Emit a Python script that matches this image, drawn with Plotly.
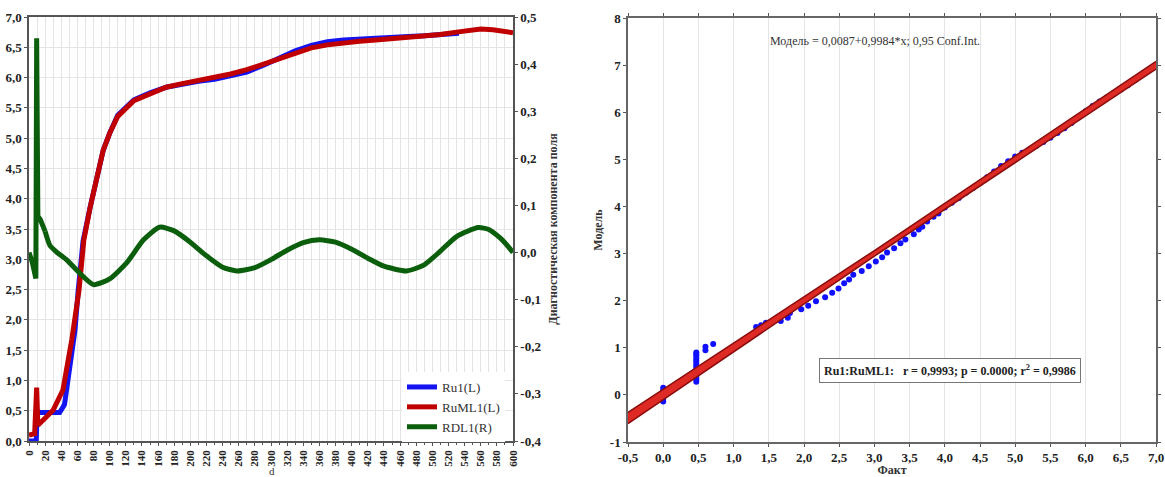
import plotly.graph_objects as go

# ---------------- left panel: field components along the profile ----------------
dist_ru1 = [0, 9, 10, 38, 44, 51, 57, 61, 67, 76, 84, 92, 100, 110, 130, 150, 170, 190,
            210, 230, 250, 270, 290, 310, 330, 350, 370, 390, 410, 430, 450, 470, 490,
            510, 533]
ru1 = [0.0, 0.0, 0.47, 0.47, 0.6, 1.23, 1.83, 2.49, 3.3, 3.87, 4.36, 4.8, 5.08, 5.38,
       5.63, 5.75, 5.84, 5.9, 5.94, 5.97, 6.02, 6.09, 6.2, 6.33, 6.44, 6.53, 6.59, 6.62,
       6.64, 6.66, 6.67, 6.68, 6.69, 6.7, 6.73]

dist_ruml1 = [0, 7, 9.5, 11, 18, 30, 42, 53, 62, 68, 76, 84, 92, 100, 110, 130, 150, 170,
              190, 210, 230, 250, 270, 290, 310, 330, 350, 370, 390, 410, 430, 450, 470,
              490, 510, 530, 545, 560, 575, 590, 600]
ruml1 = [0.1, 0.12, 0.88, 0.26, 0.35, 0.51, 0.84, 1.67, 2.49, 3.32, 3.87, 4.36, 4.8,
         5.08, 5.36, 5.62, 5.74, 5.84, 5.9, 5.95, 6.0, 6.06, 6.13, 6.22, 6.32, 6.42, 6.49,
         6.54, 6.58, 6.6, 6.62, 6.64, 6.66, 6.68, 6.71, 6.75, 6.78, 6.8, 6.79, 6.77, 6.74]

# early part (sharp spike) and the smooth oscillating remainder share one legend entry
dist_rdl1 = [0, 4, 8.5, 9.5, 11, 14, 20, 26, 35, 47, 63, 80, 100, 121, 142, 162, 180, 200,
             220, 240, 258, 280, 300, 320, 340, 360, 380, 400, 420, 440, 468, 490, 510,
             530, 557, 570, 584, 592, 600]
rdl1 = [0.0, -0.02, -0.055, 0.455, 0.077, 0.07, 0.045, 0.015, 0.0, -0.016, -0.044,
        -0.068, -0.056, -0.022, 0.027, 0.054, 0.046, 0.022, -0.007, -0.031, -0.039,
        -0.032, -0.015, 0.005, 0.021, 0.027, 0.022, 0.007, -0.012, -0.029, -0.039,
        -0.026, 0.003, 0.034, 0.053, 0.049, 0.031, 0.017, 0.0]
RDL1_SPLIT = 6  # index where the smooth part begins

dist_ticks = list(range(0, 601, 20))
dist_labels = [str(v) for v in dist_ticks]
left_ticks = [i * 0.5 for i in range(15)]
left_labels = [f"{v:.1f}".replace(".", ",") for v in left_ticks]
right_ticks = [-0.4, -0.3, -0.2, -0.1, 0.0, 0.1, 0.2, 0.3, 0.4, 0.5]
right_labels = ["-0,4", "-0,3", "-0,2", "-0,1", "0,0", "0,1", "0,2", "0,3", "0,4", "0,5"]

# ---------------- right panel: model vs. measured ----------------
fact = ([0.0] * 6 + [0.47] * 14 +
        [0.6, 0.6, 0.71, 1.13, 1.2, 1.27, 1.32, 1.39, 1.46, 1.67, 1.77, 1.8,
         1.96, 2.06, 2.17, 2.3, 2.4, 2.49, 2.57, 2.64, 2.7, 2.82, 2.92, 3.02,
         3.11, 3.18, 3.28, 3.37, 3.44, 3.56, 3.63, 3.68, 3.75, 3.84, 3.91,
         4.0, 4.1, 4.2, 4.3, 4.4, 4.5, 4.6, 4.7, 4.8, 4.9, 5.0, 5.1, 5.2, 5.3,
         5.4, 5.5, 5.6, 5.7, 5.8, 5.9, 6.0, 6.1, 6.2, 6.3, 6.4, 6.5, 6.6, 6.7])
model = ([-0.14, -0.08, -0.02, 0.04, 0.1, 0.15] +
         [0.28, 0.33, 0.38, 0.43, 0.48, 0.53, 0.58, 0.63, 0.68, 0.73, 0.78, 0.83, 0.87, 0.9] +
         [0.95, 1.02, 1.08, 1.13, 1.18, 1.27, 1.44, 1.48, 1.53, 1.57, 1.64, 1.74,
          1.82, 1.89, 1.99, 2.07, 2.17, 2.26, 2.37, 2.45, 2.55, 2.63, 2.73, 2.83,
          2.92, 3.02, 3.11, 3.22, 3.3, 3.41, 3.51, 3.57, 3.68, 3.78, 3.85,
          3.98, 4.08, 4.18, 4.29, 4.39, 4.5, 4.62, 4.74, 4.86, 4.96, 5.06, 5.14, 5.21,
          5.29, 5.37, 5.46, 5.56, 5.66, 5.77, 5.89, 6.02, 6.13, 6.23, 6.31, 6.39, 6.48,
          6.57, 6.68])

fit_intercept = 0.0087
fit_slope = 0.9984
fit_x = [-0.5, 3.0, 7.0]
conf_half = [0.12, 0.06, 0.08]  # half-width of the 0.95 confidence band

fact_ticks = [-0.5 + 0.5 * i for i in range(16)]
fact_labels = [f"{v:.1f}".replace(".", ",") for v in fact_ticks]
model_ticks = list(range(-1, 9))
model_labels = [str(v) for v in model_ticks]

fit_y = [fit_intercept + fit_slope * x for x in fit_x]
conf_lo = [y - h for y, h in zip(fit_y, conf_half)]
conf_hi = [y + h for y, h in zip(fit_y, conf_half)]

SERIF = "Liberation Serif"
W, H = 1165, 477
GREEN = "#0b5e0b"

fig = go.Figure()

fig.add_trace(go.Scatter(x=dist_ru1, y=ru1, name="Ru1(L)", mode="lines",
                         line=dict(color="#1414f0", width=5), xaxis="x", yaxis="y"))
fig.add_trace(go.Scatter(x=dist_ruml1, y=ruml1, name="RuML1(L)", mode="lines",
                         line=dict(color="#c00000", width=5), xaxis="x", yaxis="y"))
fig.add_trace(go.Scatter(x=dist_rdl1[:RDL1_SPLIT + 1], y=rdl1[:RDL1_SPLIT + 1],
                         name="RDL1(R)", mode="lines", legendgroup="rdl1", showlegend=False,
                         line=dict(color=GREEN, width=5), xaxis="x", yaxis="y2"))
fig.add_trace(go.Scatter(x=dist_rdl1[RDL1_SPLIT:], y=rdl1[RDL1_SPLIT:],
                         name="RDL1(R)", mode="lines", legendgroup="rdl1",
                         line=dict(color=GREEN, width=5, shape="spline", smoothing=0.6),
                         xaxis="x", yaxis="y2"))

fig.add_trace(go.Scatter(x=fact, y=model, mode="markers", showlegend=False,
                         marker=dict(color="#1010ff", size=6),
                         xaxis="x2", yaxis="y3"))
fig.add_trace(go.Scatter(x=fit_x, y=conf_lo, mode="lines", showlegend=False,
                         line=dict(color="#8a0c0c", width=1.5),
                         xaxis="x2", yaxis="y3"))
fig.add_trace(go.Scatter(x=fit_x, y=conf_hi, mode="lines", showlegend=False,
                         line=dict(color="#8a0c0c", width=1.5), fill="tonexty",
                         fillcolor="#dd2a24", xaxis="x2", yaxis="y3"))

tickfont_b = dict(family=SERIF, size=13, color="#222", weight="bold")
grid = "#e4e4e4"
title_font = dict(family=SERIF, size=12, color="#333", weight="bold")

fig.update_layout(
    width=W, height=H,
    margin=dict(l=0, r=0, t=0, b=0, autoexpand=False),
    paper_bgcolor="white", plot_bgcolor="white",
    showlegend=True,
    legend=dict(x=402 / W, y=1 - 372 / H, xanchor="left", yanchor="top",
                bgcolor="white", borderwidth=0, traceorder="normal",
                font=dict(family=SERIF, size=13, color="#333"),
                itemwidth=30, tracegroupgap=0),
    xaxis=dict(domain=[29 / W, 513 / W], anchor="y", range=[0, 600], automargin=False,
               tickvals=dist_ticks, ticktext=dist_labels, tickangle=-90,
               tickfont=dict(family=SERIF, size=11, color="#222", weight="bold"),
               showgrid=True, gridcolor=grid, gridwidth=1,
               minor=dict(dtick=10, showgrid=True, gridcolor=grid, ticks="outside",
                          ticklen=2, tickcolor="#555"),
               ticks="outside", ticklen=3, tickcolor="#555",
               showline=True, linecolor="#555", linewidth=1.5, mirror=True,
               zeroline=False),
    yaxis=dict(domain=[1 - 441 / H, 1 - 17 / H], anchor="x", range=[0, 7], automargin=False,
               tickvals=left_ticks, ticktext=left_labels, tickfont=tickfont_b,
               showgrid=True, gridcolor=grid, gridwidth=1,
               ticks="outside", ticklen=3, tickcolor="#555",
               showline=True, linecolor="#555", linewidth=1.5, mirror=True,
               zeroline=False),
    yaxis2=dict(overlaying="y", side="right", anchor="x", range=[-0.4, 0.5],
                automargin=False,
                tickvals=right_ticks, ticktext=right_labels, tickfont=tickfont_b,
                showgrid=False, zeroline=False, showline=True, linecolor="#555",
                linewidth=1.5, ticks="outside", ticklen=3, tickcolor="#555",
                title=dict(text="Диагностическая компонента поля", font=title_font,
                           standoff=8)),
    xaxis2=dict(domain=[628 / W, 1156 / W], anchor="y3", range=[-0.5, 7.0],
                automargin=False, ticklabeloverflow="allow",
                tickvals=fact_ticks, ticktext=fact_labels, tickfont=tickfont_b,
                showgrid=True, gridcolor=grid, gridwidth=1,
                ticks="outside", ticklen=3, tickcolor="#555",
                showline=True, linecolor="#666", linewidth=1.5, mirror="ticks",
                zeroline=False,
                title=dict(text="Факт", font=title_font, standoff=4)),
    yaxis3=dict(domain=[1 - 442 / H, 1 - 18 / H], anchor="x2", range=[-1, 8],
                automargin=False,
                tickvals=model_ticks, ticktext=model_labels, tickfont=tickfont_b,
                showgrid=False, ticks="outside", ticklen=3, tickcolor="#555",
                showline=True, linecolor="#666", linewidth=1.5, mirror="ticks",
                zeroline=False,
                title=dict(text="Модель", font=title_font, standoff=5)),
    annotations=[
        dict(text="d", x=272 / W, y=1 - 471 / H, xref="paper", yref="paper",
             xanchor="center", yanchor="middle", showarrow=False,
             font=dict(family=SERIF, size=11, color="#333")),
        dict(text="Модель = 0,0087+0,9984*x; 0,95 Conf.Int.", x=875 / W, y=1 - 41 / H,
             xref="paper", yref="paper", xanchor="center", yanchor="middle",
             showarrow=False, font=dict(family=SERIF, size=12, color="#333")),
        dict(text="<b>Ru1:RuML1:\u00a0\u00a0 r = 0,9993; p = 0.0000; r<sup>2</sup> = 0,9986</b>",
             x=950 / W, y=1 - 370 / H, xref="paper", yref="paper",
             xanchor="center", yanchor="middle", showarrow=False,
             font=dict(family=SERIF, size=12, color="#222"),
             bordercolor="#777", borderwidth=1, borderpad=4, bgcolor="white"),
    ],
)

fig.write_html("out.html")
